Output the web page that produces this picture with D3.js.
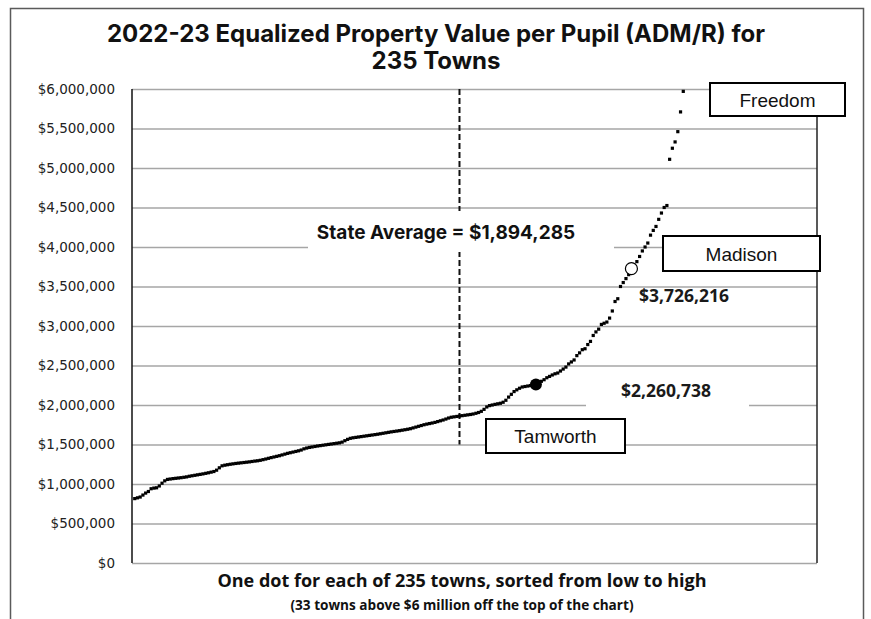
<!DOCTYPE html>
<html>
<head>
<meta charset="utf-8">
<script src="https://cdn.jsdelivr.net/npm/d3@7"></script>
<style>
  body { margin: 0; background: #fff; }
  svg { display: block; }
  .title { font-family: Inter, sans-serif; font-weight: bold; font-size: 24px; fill: #111; }
  .axis text { font-family: "DejaVu Sans", sans-serif; font-size: 13.5px; fill: #222; }
  .axis line { stroke: #a6a6a6; stroke-width: 1.5; }
  .axis .domain { display: none; }
  .avg-label { font-family: Inter, sans-serif; font-weight: bold; font-size: 19px; fill: #111; }
  .value-label { font-family: "Open Sans", sans-serif; font-weight: bold; font-size: 17.5px; fill: #1a1a1a; }
  .box-label { font-family: "Liberation Sans", Arial, sans-serif; font-size: 19px; fill: #111; }
  .x-title { font-family: "Open Sans", sans-serif; font-weight: bold; font-size: 18px; fill: #111; }
  .x-note { font-family: "Open Sans", sans-serif; font-weight: bold; font-size: 13.6px; fill: #111; }
</style>
</head>
<body>
<div id="chart"></div>
<script>
/* Equalized property value per pupil, one dot per town
 * values are in thousands of dollars, sorted low to high
 * (only the towns under $6 million are drawn)
 */

let townValues = [
  815, 825, 835, 860, 885, 905, 940, 948, 952, 975,
  1010, 1040, 1058, 1063, 1068, 1072, 1076, 1080, 1085, 1090,
  1098, 1104, 1110, 1116, 1122, 1128, 1135, 1142, 1150, 1158,
  1175, 1205, 1230, 1238, 1244, 1250, 1255, 1260, 1264, 1268,
  1272, 1276, 1280, 1285, 1290, 1294, 1300, 1308, 1316, 1325,
  1334, 1342, 1350, 1358, 1368, 1378, 1388, 1396, 1404, 1412,
  1420, 1430, 1445, 1455, 1463, 1469, 1475, 1481, 1486, 1491,
  1496, 1501, 1506, 1511, 1516, 1521, 1530, 1548, 1565, 1578,
  1585, 1590, 1595, 1600, 1605, 1610, 1615, 1620, 1625, 1630,
  1636, 1642, 1648, 1654, 1660, 1665, 1670, 1675, 1681, 1687,
  1693, 1700, 1710, 1720, 1730, 1740, 1750, 1758, 1765, 1772,
  1780, 1790, 1800, 1810, 1822, 1835, 1845, 1850, 1855, 1860,
  1865, 1870, 1875, 1880, 1886, 1895, 1905, 1920, 1945, 1975,
  1992, 2000, 2008, 2015, 2022, 2035, 2060, 2100, 2135, 2170,
  2192, 2212, 2228, 2234, 2240, 2246, 2252, 2260.738, 2280, 2300,
  2320, 2345, 2362, 2380, 2395, 2405, 2430, 2455, 2480, 2520,
  2545, 2570, 2625, 2660, 2700, 2712, 2765, 2805, 2880, 2925,
  2960, 3020, 3035, 3050, 3100, 3190, 3310, 3345, 3500, 3550,
  3600, 3650, 3726.216, 3770, 3815, 3880, 3950, 4000, 4050, 4150,
  4210, 4260, 4350, 4430, 4500, 4525, 5110, 5250, 5330, 5460,
  5710, 5970
];

let totalTowns = 235;
let offChart = 33;
let stateAverage = 1894.285;
let avgIndex = 120;            // where the state average falls in the sorted list

let yTicks = [0, 500, 1000, 1500, 2000, 2500, 3000, 3500, 4000, 4500, 5000, 5500, 6000];

let calloutNames = ["Freedom", "Madison", "Tamworth"];
let calloutIndex = [202, 183, 148];

let money = d3.format("$,.0f");

function makeGraph() {

  let w = 871, h = 619;
  let left = 132, right = 817, top = 89, bottom = 563;

  let svg = d3.select("#chart")
              .append("svg")
              .attr("width", w)
              .attr("height", h);

  // outer frame (runs off the bottom of the picture)
  svg.append("rect")
     .attr("x", 10.5).attr("y", 8.5)
     .attr("width", 853).attr("height", 650)
     .attr("fill", "none")
     .attr("stroke", "#5a5a5a")
     .attr("stroke-width", 1.5);

  svg.append("text").classed("title", true)
     .attr("x", 436).attr("y", 42).attr("text-anchor", "middle")
     .text("2022-23 Equalized Property Value per Pupil (ADM/R) for");
  svg.append("text").classed("title", true)
     .attr("x", 436).attr("y", 69).attr("text-anchor", "middle")
     .text(totalTowns + " Towns");

  let x = d3.scaleLinear().domain([0, 251]).range([left, right]);
  let y = d3.scaleLinear().domain([0, 6000]).range([bottom, top]);

  // y axis with gridlines
  let axis = svg.append("g")
     .classed("axis", true)
     .attr("transform", `translate(${left},0)`)
     .call(d3.axisLeft(y)
             .tickValues(yTicks)
             .tickSize(-(right - left))
             .tickPadding(17)
             .tickFormat(d => money(d * 1000)));
  axis.selectAll(".tick line")
      .filter(d => d === 6000)
      .attr("stroke", "#111");
  axis.selectAll(".tick line")
      .filter(d => d === 0)
      .attr("stroke", "#8c8c8c");

  // plot sides
  svg.append("line")
     .attr("x1", left).attr("x2", left).attr("y1", top).attr("y2", bottom)
     .attr("stroke", "#111").attr("stroke-width", 1.5);
  svg.append("line")
     .attr("x1", right).attr("x2", right).attr("y1", top).attr("y2", bottom)
     .attr("stroke", "#222").attr("stroke-width", 1.5);

  // state average marker
  svg.append("line")
     .attr("x1", x(avgIndex)).attr("x2", x(avgIndex))
     .attr("y1", y(6000)).attr("y2", y(1500))
     .attr("stroke", "#111")
     .attr("stroke-width", 2)
     .attr("stroke-dasharray", "6,3");

  svg.append("rect")
     .attr("x", 308).attr("y", 211)
     .attr("width", 306).attr("height", 41)
     .attr("fill", "#fff");
  svg.append("text").classed("avg-label", true)
     .attr("x", 446).attr("y", 239).attr("text-anchor", "middle")
     .text("State Average = " + money(stateAverage * 1000));

  // one dot per town
  let pts = townValues.map((v, i) => ({ idx: i + 1, value: v }));

  svg.append("g")
     .selectAll("rect")
     .data(pts)
     .enter()
     .append("rect")
     .attr("x", d => x(d.idx) - 1.6)
     .attr("y", d => y(d.value) - 1.6)
     .attr("width", 3.2)
     .attr("height", 3.2)
     .attr("fill", "#000");

  let tam = pts[calloutIndex[2] - 1];
  let mad = pts[calloutIndex[1] - 1];

  svg.append("circle")
     .attr("cx", x(tam.idx)).attr("cy", y(tam.value)).attr("r", 6)
     .attr("fill", "#000");
  svg.append("circle")
     .attr("cx", x(mad.idx)).attr("cy", y(mad.value)).attr("r", 6)
     .attr("fill", "#fff").attr("stroke", "#000").attr("stroke-width", 1.2);

  // value labels
  svg.append("text").classed("value-label", true)
     .attr("x", 639).attr("y", 302)
     .text(money(mad.value * 1000));

  svg.append("rect")
     .attr("x", 586).attr("y", 376)
     .attr("width", 163).attr("height", 32)
     .attr("fill", "#fff");
  svg.append("text").classed("value-label", true)
     .attr("x", 621).attr("y", 397)
     .text(money(tam.value * 1000));

  // name boxes
  let boxes = [
    { x: 710, y: 83, w: 135, h: 33 },
    { x: 663, y: 236, w: 157, h: 35 },
    { x: 486, y: 419, w: 139, h: 34 }
  ];

  let g = svg.append("g")
     .selectAll("g")
     .data(calloutNames)
     .enter()
     .append("g")
     .attr("transform", (d, i) => `translate(${boxes[i].x},${boxes[i].y})`);

  g.append("rect")
   .attr("width", (d, i) => boxes[i].w)
   .attr("height", (d, i) => boxes[i].h)
   .attr("fill", "#fff")
   .attr("stroke", "#000")
   .attr("stroke-width", 2);

  g.append("text").classed("box-label", true)
   .attr("x", (d, i) => boxes[i].w / 2)
   .attr("y", (d, i) => boxes[i].h / 2 + 7)
   .attr("text-anchor", "middle")
   .text(d => d);

  // x axis notes
  svg.append("text").classed("x-title", true)
     .attr("x", 462).attr("y", 587).attr("text-anchor", "middle")
     .text("One dot for each of " + totalTowns + " towns, sorted from low to high");
  svg.append("text").classed("x-note", true)
     .attr("x", 462).attr("y", 610).attr("text-anchor", "middle")
     .text("(" + offChart + " towns above $6 million off the top of the chart)");
}

window.onload = function() {
  makeGraph();
};
</script>
</body>
</html>
